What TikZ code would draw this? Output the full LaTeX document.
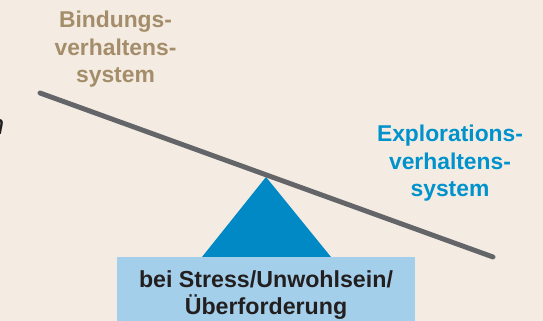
\documentclass[tikz,border=0pt]{standalone}
\usepackage{fontspec}
\setmainfont{Liberation Sans}
\usepackage{tikz}
\usepackage{tkz-euclide}
\usepackage{xcolor}

\definecolor{paper}{RGB}{244,236,226}
\definecolor{beam}{RGB}{100,101,105}
\definecolor{pivot}{RGB}{0,137,197}
\definecolor{boxblue}{RGB}{164,207,234}
\definecolor{bondtan}{RGB}{164,141,106}
\definecolor{exploblue}{RGB}{0,146,204}
\definecolor{inkdark}{RGB}{35,31,32}

\tikzset{
  systext/.style={align=center,font=\fontsize{13}{15.6}\selectfont\bfseries,inner sep=0pt},
  boxtext/.style={align=center,font=\fontsize{13.2}{15.4}\selectfont\bfseries,text=inkdark,inner sep=0pt}
}

\begin{document}
\begin{tikzpicture}
    \fill[paper] (0,0) rectangle (10.86,6.42);
    \useasboundingbox (0,0) rectangle (10.86,6.42);
    \tkzDefPoints{0.80/4.56/A,9.86/1.28/B,5.32/2.88/C,4.04/1.28/D,6.62/1.28/E}
    \tkzDefPoints{2.34/-0.1/F,8.30/1.28/G}
    \tkzFillPolygon[color=pivot](C,D,E)
    \tkzDrawSegments[color=beam,line width=2.8pt](A,B)
    \fill[boxblue] (F) rectangle (G);
    \node[boxtext] (load) at (5.32,0.52) {bei Stress/Unwohlsein/\\Überforderung};
    \node[systext,text=bondtan] (bond) at (2.31,5.43) {Bindungs-\\verhaltens-\\system};
    \node[systext,text=exploblue] (explo) at (9.00,3.15) {Explorations-\\verhaltens-\\system};
    \node[anchor=base east,inner sep=0pt,text=inkdark,font=\fontsize{16}{18}\selectfont\itshape] (cut) at (0.09,3.72) {n};
\end{tikzpicture}
\end{document}
